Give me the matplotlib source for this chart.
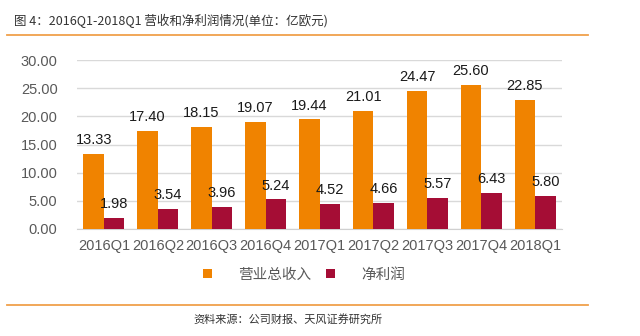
import matplotlib
matplotlib.use("Agg")
import matplotlib.pyplot as plt
import numpy as np
from matplotlib.lines import Line2D

plt.rcParams['font.family'] = ['Liberation Sans', 'Noto Sans CJK SC', 'DejaVu Sans']

categories = ['2016Q1', '2016Q2', '2016Q3', '2016Q4', '2017Q1', '2017Q2', '2017Q3', '2017Q4', '2018Q1']
revenue = [13.33, 17.40, 18.15, 19.07, 19.44, 21.01, 24.47, 25.60, 22.85]
net_profit = [1.98, 3.54, 3.96, 5.24, 4.52, 4.66, 5.57, 6.43, 5.80]
series_names = ['营业总收入', '净利润']
yticks = [0, 5, 10, 15, 20, 25, 30]

orange = '#F08300'
maroon = '#A50D35'
line_orange = '#F0A04B'
gray_text = '#595959'

fig = plt.figure(figsize=(6.4, 3.36), dpi=100)
ax = fig.add_axes([77/640, 1-229/336, 485/640, (229-60)/336])

x = np.arange(len(categories))
w = 0.38
b1 = ax.bar(x - w/2, revenue, w, color=orange, label=series_names[0], zorder=3)
b2 = ax.bar(x + w/2, net_profit, w, color=maroon, label=series_names[1], zorder=3)
ax.bar_label(b1, labels=[f'{v:.2f}' for v in revenue], padding=5, fontsize=10.5, color='#1a1a1a')
ax.bar_label(b2, labels=[f'{v:.2f}' for v in net_profit], padding=5, fontsize=10.5, color='#1a1a1a')

ax.set_xlim(-0.5, len(categories) - 0.5)
ax.set_ylim(0, 30)
ax.set_yticks(yticks)
ax.set_yticklabels([f'{v:.2f}' for v in yticks])
ax.set_xticks(x)
ax.set_xticklabels(categories)
ax.tick_params(axis='both', length=0, labelsize=10.5, labelcolor=gray_text)
ax.tick_params(axis='y', pad=14)
ax.tick_params(axis='x', pad=7)
ax.grid(axis='y', color='#d9d9d9', linewidth=1, zorder=0)
for s in ['top', 'right', 'left']:
    ax.spines[s].set_visible(False)
ax.spines['bottom'].set_color('#d0d0d0')

leg = fig.legend(handles=[b1, b2], loc='center', bbox_to_anchor=(0.475, 1-275/336), ncol=2,
                 frameon=False, handlelength=0.6, handleheight=0.6, handletextpad=1.8,
                 columnspacing=1.0, prop={'family': ['Noto Sans CJK SC'], 'size': 10.5})
for t in leg.get_texts():
    t.set_color(gray_text)

fig.text(14/640, 1-21/336, '图 4：2016Q1-2018Q1 营收和净利润情况(单位：亿欧元)',
         family=['Noto Sans CJK SC', 'DejaVu Sans'], fontsize=9, fontweight='medium',
         color='#333333', va='center', ha='left')
fig.add_artist(Line2D([7/640, 588/640], [1-35/336, 1-35/336], color=line_orange, linewidth=1.3))
fig.add_artist(Line2D([7/640, 588/640], [1-305/336, 1-305/336], color=line_orange, linewidth=1.3))
fig.text(288/640, 1-319/336, '资料来源：公司财报、天风证券研究所',
         family=['Noto Sans CJK SC', 'DejaVu Sans'], fontsize=8, color='#333333',
         va='center', ha='center')

fig.savefig('out.png', dpi=100)
